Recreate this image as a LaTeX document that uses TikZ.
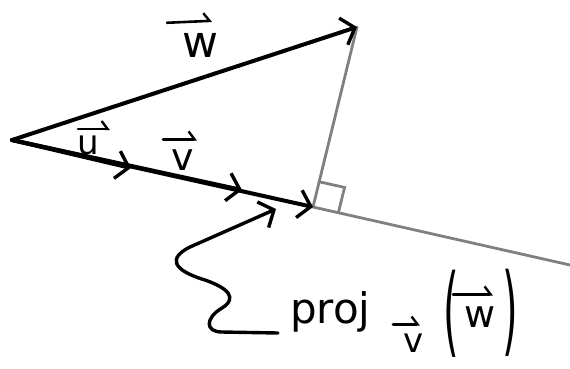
\documentclass[tikz,border=0pt]{standalone}
\usepackage{fontspec}
\setmainfont{DejaVu Sans}
\usepackage{graphicx}
\usetikzlibrary{arrows.meta, calc}

\begin{document}
\begin{tikzpicture}[x=1pt, y=-1pt,
  vec/.style={line width=4pt, line cap=round, black,
              -{Straight Barb[length=12pt, width=28pt, line width=3.4pt]}},
  aux/.style={line width=2.8pt, line cap=round, gray},
  hat/.style={line width=2.6pt, line cap=round,
              -{Straight Barb[left, length=6pt, width=16pt, line width=2.4pt]}},
  lbl/.style={inner sep=0pt, font=\fontsize{#1}{#1}\selectfont},
  lbl/.default=38pt
]
  \useasboundingbox (0,0) rectangle (570,368);
  % points
  \coordinate (o) at (12,140);
  \coordinate (w) at (357,27);
  \coordinate (p) at (313,207);
  \coordinate (u) at (131,168);
  \coordinate (v) at (242,190);
  \coordinate (e) at (570,265);
  \coordinate (t) at (276,209);
  \coordinate (s) at (278,333);
  % grey lines and right angle
  \draw[aux] (p) -- (w);
  \draw[aux] (p) -- (e);
  \draw[aux] ($(p)!26pt!(w)$) -- ++(25.4,5.7) -- ($(p)!26pt!(e)$);
  % vectors
  \draw[vec] (o) -- (w);
  \draw[vec] (o) -- (p);
  \draw[vec] (o) -- (v);
  \draw[vec] (o) -- (u);
  % labels
  \node[lbl=44pt] (wl) at (200,45) {w};
  \draw[hat] ($(wl.north)+(-33,-10)$) -- ($(wl.north)+(12,-12)$);
  \node[lbl=34pt] (ul) at (88,145) {u};
  \draw[hat] ($(ul.north)+(-10,-6)$) -- ($(ul.north)+(22,-6)$);
  \node[lbl] (vl) at (183,160) {v};
  \draw[hat] ($(vl.north)+(-20,-10)$) -- ($(vl.north)+(14,-10)$);
  % projection label
  \node[lbl=42pt, anchor=base west] (pj) at (290,323) {proj};
  \node[lbl=34pt] (pv) at (414,343) {v};
  \draw[hat] ($(pv.north)+(-21,-9)$) -- ($(pv.north)+(6,-9)$);
  \node[lbl=40pt] (lp) at (451,314) {\scalebox{1}[2.45]{(}};
  \node[lbl] (pw) at (480,317) {w};
  \draw[hat] ($(pw.north)+(-27,-12)$) -- ($(pw.north)+(13,-12)$);
  \node[lbl=40pt] (rp) at (510,313) {\scalebox{1}[2.45]{)}};
  % squiggle to the projection
  \draw[vec, line width=3.4pt] (s) -- (222,332)
    .. controls (205,332) and (205,318) .. (222,308)
    .. controls (238,298) and (228,288) .. (205,280)
    .. controls (172,270) and (168,258) .. (190,247) -- (t);
\end{tikzpicture}
\end{document}
